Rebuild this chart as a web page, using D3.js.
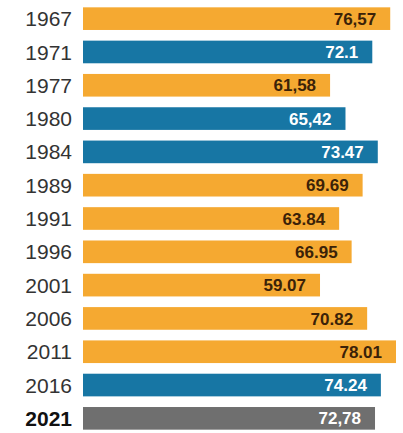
<!DOCTYPE html>
<html lang="en">
<head>
<meta charset="UTF-8">
<script src="https://d3js.org/d3.v7.min.js"></script>
<style>
  body { margin: 0; background: #fff; }
  .year { font-family: 'Liberation Sans', Arial, sans-serif; font-size: 21px; fill: #333; }
  .val { font-family: 'Liberation Sans', Arial, sans-serif; font-size: 17px; font-weight: bold; }
</style>
</head>
<body>
<div id="chart"></div>
<script>
const years = ["1967", "1971", "1977", "1980", "1984", "1989", "1991", "1996", "2001", "2006", "2011", "2016", "2021"];
const turnout = [76.57, 72.1, 61.58, 65.42, 73.47, 69.69, 63.84, 66.95, 59.07, 70.82, 78.01, 74.24, 72.78];
const valueLabels = ["76,57", "72.1", "61,58", "65,42", "73.47", "69.69", "63.84", "66.95", "59.07", "70.82", "78.01", "74.24", "72,78"];
const groups = ["a", "b", "a", "b", "b", "a", "a", "a", "a", "a", "a", "b", "c"];

const W = 403, H = 433;
const left = 83;

const color = d3.scaleOrdinal().domain(["a", "b", "c"]).range(["#f5a931", "#1776a4", "#6f6f6f"]);
const textColor = d3.scaleOrdinal().domain(["a", "b", "c"]).range(["#3b2208", "#ffffff", "#ffffff"]);

const x = d3.scaleLinear().domain([0, 78.01]).range([left, 396]);
const y = d3.scaleBand().domain(years).range([2, 435]).paddingInner(0.32).paddingOuter(0.16);

const svg = d3.select("#chart").append("svg").attr("width", W).attr("height", H);

const rows = svg.selectAll("g.row").data(years).enter().append("g").attr("class", "row");

rows.append("rect")
  .attr("x", x(0))
  .attr("y", d => y(d))
  .attr("width", (d, i) => x(turnout[i]) - x(0))
  .attr("height", y.bandwidth())
  .attr("fill", (d, i) => color(groups[i]));

rows.append("text")
  .attr("class", "year")
  .attr("x", 72)
  .attr("y", d => y(d) + y.bandwidth() / 2)
  .attr("dy", "0.36em")
  .attr("text-anchor", "end")
  .style("font-weight", d => d === "2021" ? "bold" : null)
  .style("fill", d => d === "2021" ? "#111" : null)
  .text(d => d);

rows.append("text")
  .attr("class", "val")
  .attr("x", (d, i) => x(turnout[i]) - 14)
  .attr("y", d => y(d) + y.bandwidth() / 2)
  .attr("dy", "0.36em")
  .attr("text-anchor", "end")
  .attr("fill", (d, i) => textColor(groups[i]))
  .text((d, i) => valueLabels[i]);
</script>
</body>
</html>
